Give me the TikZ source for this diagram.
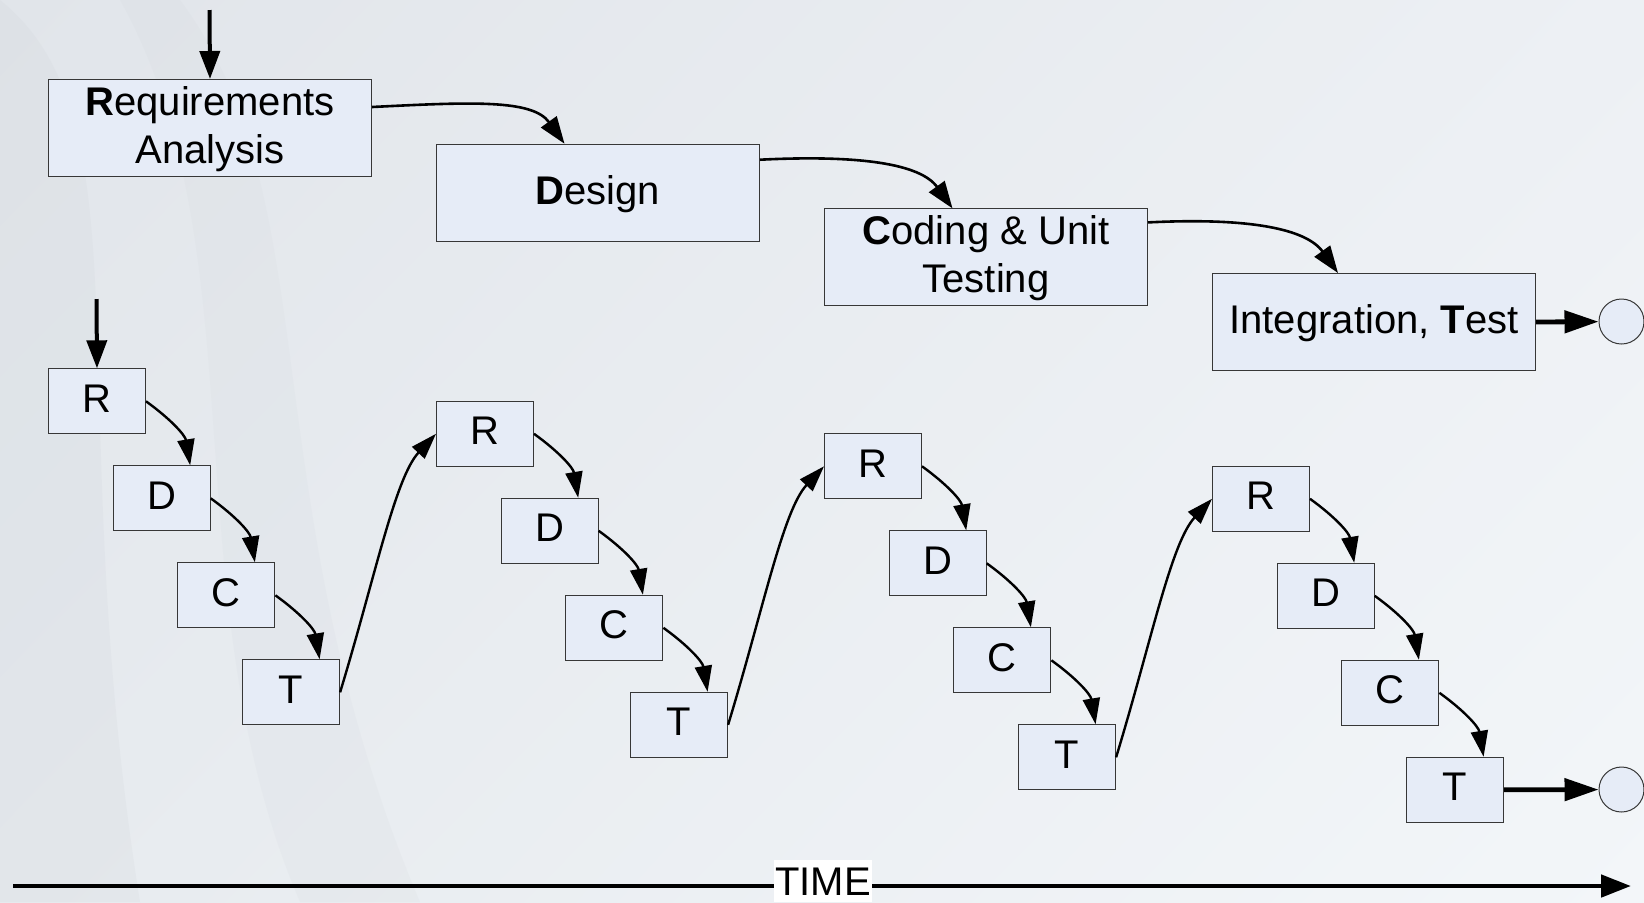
\documentclass[tikz,border=0pt]{standalone}
\usepackage{fontspec}
\setmainfont{Liberation Sans}
\usetikzlibrary{arrows.meta,calc,shadings}

\definecolor{boxfill}{RGB}{230,236,247}
\definecolor{boxline}{RGB}{55,55,55}
\definecolor{bgtl}{RGB}{225,229,234}
\definecolor{bgtr}{RGB}{237,240,244}
\definecolor{bgbl}{RGB}{231,235,239}
\definecolor{bgbr}{RGB}{243,246,249}
\definecolor{haze}{RGB}{205,210,216}

\begin{document}
\begin{tikzpicture}[x=0.5pt,y=-0.5pt,
  every node/.style={font=\fontsize{20pt}{24pt}\selectfont},
  phasebox/.style={draw=boxline,line width=0.5pt,fill=boxfill,
    minimum width=161.5pt,minimum height=48.5pt,inner sep=0pt,
    anchor=north west,align=center,text depth=3pt},
  cyclebox/.style={phasebox,minimum width=48.5pt,minimum height=32.5pt},
  endcircle/.style={circle,draw=boxline,line width=0.5pt,fill=boxfill,
    minimum size=22.5pt,inner sep=0pt},
  conn/.style={line width=1.2pt,-{Triangle[length=13pt,width=8.5pt]}},
  flowconn/.style={line width=1.3pt,-{Triangle[length=13.5pt,width=9.5pt]}},
  entry/.style={line width=2pt,-{Triangle[length=14pt,width=10pt]}},
  exit/.style={line width=2.4pt,-{Triangle[length=17pt,width=11pt]}},
  timeline/.style={line width=2.4pt,-{Triangle[length=15pt,width=11pt]}},
  timelabel/.style={fill=white,inner xsep=0.75pt,inner ysep=0pt,
    text height=17.3pt,text depth=3.5pt,anchor=base},
]
\useasboundingbox (0,0) rectangle (1644,902);

% background
\shade[upper left=bgtl,upper right=bgtr,lower left=bgbl,lower right=bgbr]
  (0,0) rectangle (1644,902);
\fill[haze,opacity=0.18] (0,0) .. controls (150,120) and (60,400) .. (140,902)
  -- (0,902) -- cycle;
\fill[haze,opacity=0.12] (180,0) .. controls (330,200) and (250,500) .. (420,902)
  -- (300,902) .. controls (170,600) and (260,250) .. (120,0) -- cycle;

% waterfall phases
\node[phasebox] (req)    at (48,79)      {\textbf{R}equirements\\Analysis};
\node[phasebox] (design) at (436,143.7)  {\textbf{D}esign};
\node[phasebox] (coding) at (824,208.4)  {\textbf{C}oding \& Unit\\Testing};
\node[phasebox] (integ)  at (1212,273)   {Integration, \textbf{T}est};
\node[endcircle] (endA) at (1621.5,321.5) {};

\coordinate (topin) at (209.5,10);
\draw[entry] (topin) -- (req.north);
\draw[flowconn] ($(req.north east)+(0,28)$)
  .. controls +(100,-5) and +(-32,-44.5) .. ($(design.north west)+(128.5,0)$);
\draw[flowconn] ($(design.north east)+(0,16)$)
  .. controls +(100,-5) and +(-32,-44.5) .. ($(coding.north west)+(128.5,0)$);
\draw[flowconn] ($(coding.north east)+(0,14)$)
  .. controls +(100,-5) and +(-32,-44.5) .. ($(integ.north west)+(126,0)$);
\draw[exit] (integ.east) -- (endA);

% iterative cycles
\foreach \c in {0,1,2,3}{
  \node[cyclebox] (R\c) at (48+388*\c,        368.3+32.5*\c)       {R};
  \node[cyclebox] (D\c) at (48+388*\c+64.7,   368.3+32.5*\c+97)    {D};
  \node[cyclebox] (C\c) at (48+388*\c+129.4,  368.3+32.5*\c+194)   {C};
  \node[cyclebox] (T\c) at (48+388*\c+194.1,  368.3+32.5*\c+291)   {T};
  \draw[conn] (R\c.east) .. controls +(25,18) and +(-5,-30) .. ($(D\c.north west)+(77.5,0)$);
  \draw[conn] (D\c.east) .. controls +(25,18) and +(-5,-30) .. ($(C\c.north west)+(77.5,0)$);
  \draw[conn] (C\c.east) .. controls +(25,18) and +(-5,-30) .. ($(T\c.north west)+(77.5,0)$);
}
\foreach \c/\n in {0/1,1/2,2/3}{
  \draw[conn] (T\c.east) .. controls +(35,-115) and +(-41,44) .. (R\n.west);
}
\node[endcircle] (endB) at (1621.5,789.5) {};

\coordinate (cyclein) at (96.5,299);
\draw[entry] (cyclein) -- (R0.north);
\draw[exit] (T3.east) -- (endB);

% time axis
\coordinate (tstart) at (13,886);
\coordinate (tend) at (1631,886);
\draw[timeline] (tstart) -- (tend);
\node[timelabel] (time) at (823,895) {TIME};
\end{tikzpicture}
\end{document}
